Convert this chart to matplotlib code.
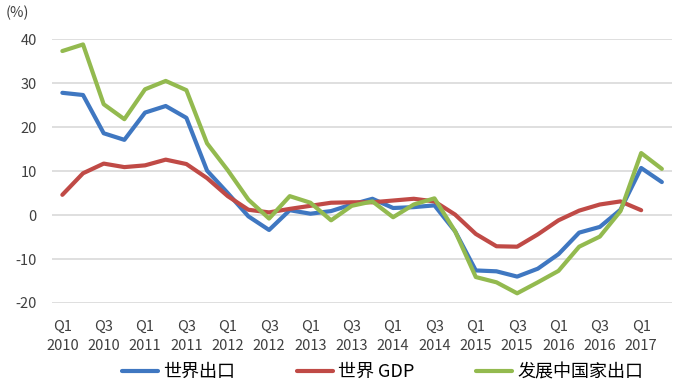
import matplotlib
matplotlib.use("Agg")
import matplotlib.pyplot as plt
import numpy as np

plt.rcParams['font.family'] = ['Noto Sans CJK SC', 'DejaVu Sans']
plt.rcParams['axes.unicode_minus'] = False

# quarters Q1 2010 .. Q2 2017
quarters = [f"Q{q} {y}" for y in range(2010, 2018) for q in range(1, 5)][:30]
tick_labels = [f"Q{q}\n{y}" for y in range(2010, 2018) for q in (1, 3)][:15]

world_exports = [27.8, 27.3, 18.6, 17.1, 23.3, 24.8, 22.1, 10.1, 5.0, -0.3,
                 -3.4, 1.1, 0.3, 0.9, 2.4, 3.7, 1.6, 1.8, 2.2, -3.7,
                 -12.6, -12.8, -14.0, -12.2, -8.9, -4.0, -2.7, 1.2, 10.7, 7.5]
world_gdp = [4.6, 9.5, 11.7, 10.9, 11.3, 12.6, 11.6, 8.4, 4.3, 1.2,
             0.6, 1.4, 2.1, 2.8, 2.9, 2.9, 3.3, 3.7, 3.1, 0.1,
             -4.3, -7.1, -7.2, -4.4, -1.2, 1.0, 2.4, 3.1, 1.1]
dev_exports = [37.3, 38.8, 25.2, 21.8, 28.6, 30.5, 28.4, 16.3, 10.2, 3.5,
               -0.8, 4.3, 2.8, -1.2, 2.1, 3.1, -0.5, 2.4, 3.8, -3.7,
               -14.1, -15.3, -17.8, -15.3, -12.7, -7.2, -4.9, 0.9, 14.1, 10.5]

series_names = ["世界出口", "世界 GDP", "发展中国家出口"]
colors = ["#3F77C1", "#C04A46", "#93BA4F"]

fig = plt.figure(figsize=(6.8, 3.84), dpi=100)
ax = fig.add_axes([0.0765, 0.211, 0.912, 0.687])

for vals, name, c in zip([world_exports, world_gdp, dev_exports], series_names, colors):
    ax.plot(np.arange(len(vals)), vals, color=c, lw=3, label=name, solid_capstyle='round')

ax.set_xlim(-0.5, 29.5)
ax.set_ylim(-20, 40)
ax.set_yticks(range(-20, 41, 10))
ax.set_xticks(np.arange(0, 30, 2))
ax.set_xticklabels(tick_labels, linespacing=1.5)
ax.grid(axis='y', color='#D9D9D9', lw=1.2)
ax.set_axisbelow(True)
for s in ax.spines.values():
    s.set_visible(False)
ax.tick_params(length=0, labelsize=10.5, colors='#404040')
ax.tick_params(axis='x', pad=12)
ax.tick_params(axis='y', pad=11)

fig.text(0.008, 0.966, "(%)", fontsize=10.5, color='#404040', va='center')

fig.legend(loc='center', bbox_to_anchor=(0.5625, 0.031), ncol=3, frameon=False,
           fontsize=13, handlelength=2.0, columnspacing=3.4, handletextpad=0.3,
           borderpad=0, borderaxespad=0)

fig.savefig("out.png", dpi=100)
